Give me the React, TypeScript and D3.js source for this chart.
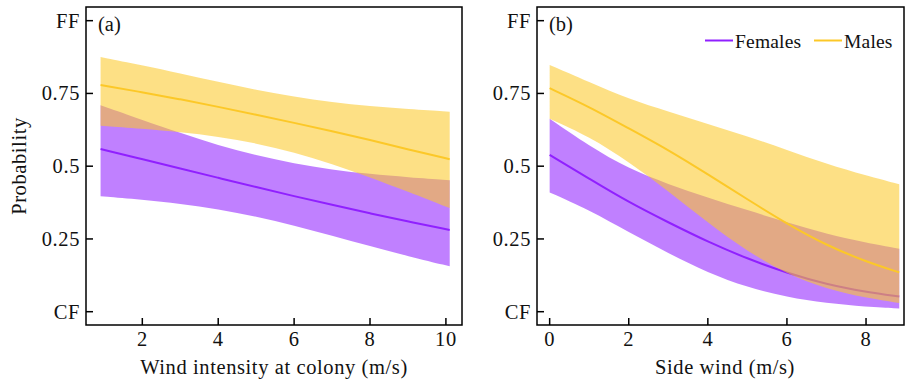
import React from "react";
import * as d3 from "d3";

// ---------- data ----------
const yTickValues = [0, 0.25, 0.5, 0.75, 1];
const yTickLabels = ["CF", "0.25", "0.5", "0.75", "FF"];

// Panel (a): wind intensity at colony
const colonyWind = [0.9, 2, 3, 4, 5, 6, 7, 8, 9, 10.1];
const colonyFemalesFit = [0.559, 0.524, 0.492, 0.46, 0.428, 0.397, 0.367, 0.338, 0.31, 0.281];
const colonyFemalesUpper = [0.709, 0.659, 0.614, 0.572, 0.537, 0.509, 0.488, 0.473, 0.462, 0.452];
const colonyFemalesLower = [0.397, 0.385, 0.371, 0.352, 0.327, 0.296, 0.261, 0.225, 0.191, 0.156];
const colonyMalesFit = [0.779, 0.754, 0.73, 0.704, 0.677, 0.649, 0.62, 0.59, 0.558, 0.524];
const colonyMalesUpper = [0.875, 0.847, 0.819, 0.79, 0.762, 0.739, 0.72, 0.706, 0.696, 0.687];
const colonyMalesLower = [0.639, 0.629, 0.617, 0.602, 0.579, 0.547, 0.508, 0.462, 0.412, 0.356];
const colonyTicks = [2, 4, 6, 8, 10];

// Panel (b): side wind
const sideWind = [0, 1, 2, 3, 4, 5, 6, 7, 8, 8.84];
const sideFemalesFit = [0.539, 0.457, 0.376, 0.307, 0.24, 0.182, 0.133, 0.094, 0.068, 0.052];
const sideFemalesUpper = [0.663, 0.569, 0.491, 0.438, 0.392, 0.349, 0.307, 0.267, 0.237, 0.216];
const sideFemalesLower = [0.41, 0.349, 0.273, 0.201, 0.134, 0.084, 0.05, 0.029, 0.017, 0.011];
const sideMalesFit = [0.768, 0.704, 0.63, 0.556, 0.472, 0.386, 0.302, 0.228, 0.172, 0.135];
const sideMalesUpper = [0.848, 0.789, 0.731, 0.688, 0.645, 0.603, 0.556, 0.508, 0.468, 0.438];
const sideMalesLower = [0.663, 0.602, 0.515, 0.415, 0.305, 0.207, 0.13, 0.078, 0.047, 0.03];
const sideTicks = [0, 2, 4, 6, 8];

const seriesNames = ["Females", "Males"];

// ---------- style ----------
const FEMALE = "#9020ff";
const MALE = "#fcc828";
const BAND_OPACITY = 0.57;
const FONT = "'Liberation Serif', 'Times New Roman', serif";
const FS = 20.5;
const LS = 0.6;
const FS_SMALL = 19.5;

type Series = { x: number[]; fit: number[]; lo: number[]; hi: number[]; color: string };

const yScale = d3.scaleLinear().domain([-0.0457, 1.047]).range([325, 7]);

function Panel(props: {
  left: number;
  right: number;
  domain: [number, number];
  ticks: number[];
  series: Series[];
  tag: string;
  xTitle: string;
  titleX: number;
  legend?: boolean;
}) {
  const { left, right, domain, ticks, series, tag, xTitle, titleX, legend } = props;
  const top = 7;
  const bottom = 325;
  const x = d3.scaleLinear().domain(domain).range([left, right]);
  const curve = d3.curveBasis;
  const tickLen = 7;
  return (
    <g>
      {series.map((s, i) => {
        const idx = d3.range(s.x.length);
        const area = d3
          .area<number>()
          .x((j) => x(s.x[j]))
          .y0((j) => yScale(s.lo[j]))
          .y1((j) => yScale(s.hi[j]))
          .curve(curve);
        const line = d3
          .line<number>()
          .x((j) => x(s.x[j]))
          .y((j) => yScale(s.fit[j]))
          .curve(curve);
        return (
          <g key={i}>
            <path d={area(idx) || ""} fill={s.color} fillOpacity={BAND_OPACITY} stroke="none" />
            <path d={line(idx) || ""} fill="none" stroke={s.color} strokeWidth={2} />
          </g>
        );
      })}
      <rect x={left} y={top} width={right - left} height={bottom - top} fill="none" stroke="#000" strokeWidth={1.5} />
      {yTickValues.map((v, i) => (
        <g key={"y" + i}>
          <line x1={left} x2={left + tickLen} y1={yScale(v)} y2={yScale(v)} stroke="#000" strokeWidth={1.5} />
          <text
            x={left - 6}
            y={yScale(v) + 7}
            textAnchor="end"
            fontFamily={FONT}
            fontSize={FS}
            letterSpacing={LS}
            fill="#111"
          >
            {yTickLabels[i]}
          </text>
        </g>
      ))}
      {ticks.map((t, i) => (
        <g key={"x" + i}>
          <line x1={x(t)} x2={x(t)} y1={bottom} y2={bottom - tickLen} stroke="#000" strokeWidth={1.5} />
          <text x={x(t)} y={346} textAnchor="middle" fontFamily={FONT} fontSize={FS} letterSpacing={LS} fill="#111">
            {t}
          </text>
        </g>
      ))}
      <text x={titleX} y={374} textAnchor="middle" fontFamily={FONT} fontSize={FS} letterSpacing={LS} fill="#111">
        {xTitle}
      </text>
      <text x={left + 12} y={31} fontFamily={FONT} fontSize={FS} fill="#111">
        {tag}
      </text>
      {legend && (
        <g>
          {series.map((s, i) => {
            const lx = i === 0 ? 705 : 814;
            return (
              <g key={"lg" + i}>
                <line x1={lx} x2={lx + 28} y1={40.5} y2={40.5} stroke={s.color} strokeWidth={2} />
                <text x={lx + 30} y={47.5} fontFamily={FONT} fontSize={FS_SMALL} letterSpacing={0.2} fill="#111">
                  {seriesNames[i]}
                </text>
              </g>
            );
          })}
        </g>
      )}
    </g>
  );
}

export default function App() {
  const colonySeries: Series[] = [
    { x: colonyWind, fit: colonyFemalesFit, lo: colonyFemalesLower, hi: colonyFemalesUpper, color: FEMALE },
    { x: colonyWind, fit: colonyMalesFit, lo: colonyMalesLower, hi: colonyMalesUpper, color: MALE },
  ];
  const sideSeries: Series[] = [
    { x: sideWind, fit: sideFemalesFit, lo: sideFemalesLower, hi: sideFemalesUpper, color: FEMALE },
    { x: sideWind, fit: sideMalesFit, lo: sideMalesLower, hi: sideMalesUpper, color: MALE },
  ];
  return (
    <svg
      width={906}
      height={382}
      viewBox="0 0 906 382"
      style={{ position: "absolute", left: 0, top: 0, background: "#fff" }}
    >
      <rect x={0} y={0} width={906} height={382} fill="#fff" />
      <Panel
        left={86}
        right={462}
        domain={[0.516, 10.424]}
        ticks={colonyTicks}
        series={colonySeries}
        tag="(a)"
        xTitle="Wind intensity at colony (m/s)"
        titleX={274}
      />
      <Panel
        left={537}
        right={904}
        domain={[-0.32, 8.96]}
        ticks={sideTicks}
        series={sideSeries}
        tag="(b)"
        xTitle="Side wind (m/s)"
        titleX={725}
        legend
      />
      <text
        transform="translate(26,166) rotate(-90)"
        textAnchor="middle"
        fontFamily={FONT}
        fontSize={FS}
        letterSpacing={LS}
        fill="#111"
      >
        Probability
      </text>
    </svg>
  );
}
